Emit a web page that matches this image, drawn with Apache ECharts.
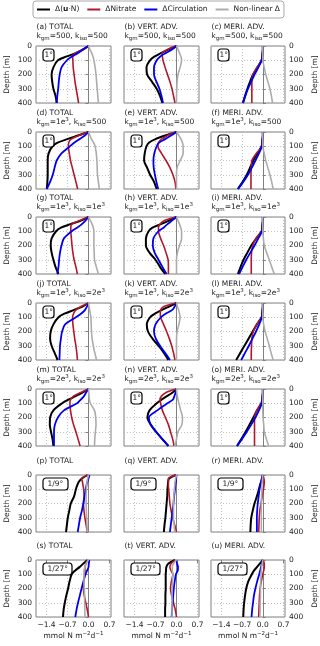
<!DOCTYPE html>
<html>
<head>
<meta charset="utf-8">
<script src="https://cdn.jsdelivr.net/npm/echarts@6/dist/echarts.min.js"></script>
<style>
  html, body { margin: 0; background: #fff; }
  #chart { width: 320px; height: 646px; }
</style>
</head>
<body>
<div id="chart"></div>
<script>
// depth levels (m) at which the profiles were read
const DEPTHS = [0, 25, 50, 75, 100, 150, 200, 250, 300, 350, 400];
const X_TICKS = [-1.4, -0.7, 0, 0.7];
const LETTERS = 'abcdefghijklmnopqrstu';
const COLUMN_NAMES = ['TOTAL', 'VERT. ADV.', 'MERI. ADV.'];
const ROW_PARAMS = [
  'k{s|gm}=500, k{s|iso}=500',
  'k{s|gm}=1e{p|3}, k{s|iso}=500',
  'k{s|gm}=1e{p|3}, k{s|iso}=1e{p|3}',
  'k{s|gm}=1e{p|3}, k{s|iso}=2e{p|3}',
  'k{s|gm}=2e{p|3}, k{s|iso}=2e{p|3}',
  null,
  null,
];
const ROW_RES = ['1°', '1°', '1°', '1°', '1°', '1/9°', '1/27°'];
const SERIES_NAMES = ['Δ(u·N)', 'ΔNitrate', 'ΔCirculation', 'Non-linear Δ'];

// Δ(u·N), one row per panel (a..u)
const BLACK = [
  [0, -0.2, -0.42, -0.75, -1.02, -1.17, -1.23, -1.21, -1.17, -1.1, -1.06],
  [0, -0.28, -0.52, -0.74, -0.88, -1.0, -0.98, -0.82, -0.66, -0.55, -0.47],
  [0, 0, -0.01, -0.02, -0.04, -0.18, -0.33, -0.43, -0.52, -0.6, -0.67],
  [0, -0.35, -0.71, -1.03, -1.2, -1.33, -1.36, -1.36, -1.36, -1.37, -1.39],
  [0, -0.38, -0.7, -0.92, -1.0, -1.06, -1.08, -0.98, -0.88, -0.75, -0.66],
  [0, 0, -0.01, -0.02, -0.04, -0.18, -0.32, -0.43, -0.54, -0.68, -0.84],
  [0, -0.25, -0.6, -0.92, -1.08, -1.23, -1.26, -1.23, -1.17, -1.1, -1.0],
  [0, -0.25, -0.52, -0.8, -0.93, -1.02, -1.02, -0.9, -0.7, -0.55, -0.38],
  [0, 0, -0.01, -0.02, -0.04, -0.22, -0.39, -0.52, -0.65, -0.75, -0.84],
  [0, -0.2, -0.5, -0.8, -1.0, -1.17, -1.26, -1.28, -1.23, -1.13, -1.03],
  [0, -0.25, -0.5, -0.72, -0.88, -0.99, -0.95, -0.8, -0.6, -0.42, -0.27],
  [0, 0, -0.01, -0.02, -0.04, -0.2, -0.34, -0.48, -0.62, -0.76, -0.9],
  [0, -0.2, -0.43, -0.67, -0.88, -1.17, -1.28, -1.29, -1.25, -1.2, -1.17],
  [0, -0.13, -0.32, -0.5, -0.66, -0.9, -0.97, -0.86, -0.68, -0.48, -0.27],
  [0, 0, -0.01, -0.02, -0.05, -0.2, -0.32, -0.45, -0.58, -0.72, -0.87],
  [-0.03, -0.22, -0.33, -0.38, -0.42, -0.48, -0.59, -0.64, -0.69, -0.72, -0.75],
  [-0.02, -0.25, -0.28, -0.29, -0.3, -0.31, -0.33, -0.35, -0.37, -0.4, -0.42],
  [0, -0.03, -0.06, -0.1, -0.13, -0.2, -0.28, -0.34, -0.39, -0.41, -0.42],
  [-0.03, -0.17, -0.3, -0.45, -0.56, -0.63, -0.68, -0.74, -0.79, -0.83, -0.85],
  [-0.05, -0.27, -0.34, -0.35, -0.36, -0.36, -0.36, -0.37, -0.37, -0.38, -0.38],
  [0, -0.1, -0.2, -0.3, -0.37, -0.49, -0.56, -0.6, -0.63, -0.65, -0.66],
];

// ΔNitrate
const RED = [
  [0, -0.17, -0.45, -0.53, -0.52, -0.51, -0.48, -0.45, -0.41, -0.37, -0.33],
  [-0.03, -0.3, -0.48, -0.47, -0.45, -0.38, -0.3, -0.22, -0.15, -0.1, -0.05],
  [0, 0, -0.01, -0.02, -0.03, -0.2, -0.33, -0.37, -0.37, -0.37, -0.37],
  [0, -0.33, -0.58, -0.66, -0.67, -0.64, -0.6, -0.54, -0.48, -0.42, -0.36],
  [-0.05, -0.3, -0.5, -0.6, -0.62, -0.5, -0.35, -0.22, -0.12, -0.05, -0.02],
  [0, 0, -0.01, -0.02, -0.03, -0.22, -0.37, -0.39, -0.4, -0.4, -0.4],
  [0, -0.3, -0.56, -0.59, -0.59, -0.57, -0.55, -0.52, -0.48, -0.42, -0.37],
  [-0.03, -0.4, -0.55, -0.6, -0.6, -0.53, -0.43, -0.35, -0.28, -0.27, -0.27],
  [0, 0, -0.01, -0.02, -0.03, -0.23, -0.34, -0.38, -0.39, -0.39, -0.39],
  [0, -0.25, -0.43, -0.5, -0.53, -0.52, -0.49, -0.46, -0.42, -0.39, -0.37],
  [-0.03, -0.42, -0.53, -0.54, -0.53, -0.43, -0.33, -0.24, -0.16, -0.1, -0.05],
  [0, 0, -0.01, -0.02, -0.03, -0.2, -0.32, -0.37, -0.38, -0.39, -0.39],
  [0, -0.26, -0.5, -0.6, -0.62, -0.6, -0.56, -0.5, -0.42, -0.35, -0.28],
  [-0.03, -0.35, -0.5, -0.55, -0.53, -0.47, -0.37, -0.27, -0.2, -0.13, -0.08],
  [0, 0, -0.01, -0.02, -0.04, -0.2, -0.28, -0.28, -0.28, -0.28, -0.28],
  [0, -0.23, -0.2, -0.18, -0.16, -0.15, -0.17, -0.15, -0.12, -0.08, -0.04],
  [0, -0.27, -0.27, -0.27, -0.26, -0.24, -0.22, -0.18, -0.13, -0.06, 0],
  [0, 0.04, 0.05, 0.04, 0.02, -0.02, -0.06, -0.1, -0.12, -0.13, -0.14],
  [-0.03, -0.08, -0.12, -0.12, -0.13, -0.15, -0.17, -0.14, -0.09, -0.04, 0],
  [-0.03, -0.18, -0.22, -0.18, -0.12, -0.17, -0.2, -0.16, -0.1, -0.04, 0],
  [0, 0.05, 0.05, 0.03, 0, -0.05, -0.09, -0.11, -0.12, -0.13, -0.14],
];

// ΔCirculation
const BLUE = [
  [0, -0.18, -0.36, -0.56, -0.72, -0.9, -0.96, -0.99, -1.01, -1.04, -1.06],
  [0, -0.15, -0.36, -0.55, -0.66, -0.75, -0.75, -0.67, -0.57, -0.5, -0.45],
  [0, 0, -0.01, -0.02, -0.04, -0.15, -0.28, -0.39, -0.5, -0.59, -0.67],
  [0, -0.12, -0.3, -0.48, -0.62, -0.9, -1.06, -1.13, -1.19, -1.28, -1.39],
  [0, -0.18, -0.38, -0.58, -0.66, -0.74, -0.77, -0.76, -0.72, -0.67, -0.61],
  [0, 0, -0.01, -0.02, -0.03, -0.13, -0.25, -0.37, -0.5, -0.66, -0.84],
  [0, -0.1, -0.22, -0.38, -0.56, -0.82, -0.9, -0.95, -0.98, -1.0, -1.04],
  [0, -0.15, -0.3, -0.43, -0.6, -0.77, -0.79, -0.73, -0.6, -0.47, -0.33],
  [0, 0, -0.01, -0.02, -0.03, -0.15, -0.28, -0.42, -0.56, -0.68, -0.8],
  [0, -0.05, -0.12, -0.25, -0.42, -0.78, -0.88, -0.92, -0.95, -0.96, -0.97],
  [0, -0.06, -0.15, -0.36, -0.52, -0.7, -0.75, -0.69, -0.55, -0.38, -0.22],
  [0, 0, -0.01, -0.02, -0.03, -0.12, -0.23, -0.35, -0.47, -0.6, -0.73],
  [0, -0.08, -0.15, -0.26, -0.38, -0.82, -1.02, -1.12, -1.15, -1.15, -1.15],
  [0, -0.03, -0.07, -0.12, -0.3, -0.64, -0.92, -0.86, -0.68, -0.48, -0.27],
  [0, 0, -0.01, -0.02, -0.03, -0.13, -0.25, -0.39, -0.54, -0.7, -0.87],
  [0.03, 0, -0.04, -0.07, -0.09, -0.13, -0.17, -0.22, -0.28, -0.32, -0.36],
  [0, -0.01, -0.02, -0.04, -0.05, -0.08, -0.1, -0.13, -0.16, -0.19, -0.22],
  [0, -0.03, -0.06, -0.09, -0.11, -0.14, -0.17, -0.19, -0.2, -0.2, -0.2],
  [0.03, 0.01, 0, -0.05, -0.1, -0.17, -0.23, -0.29, -0.35, -0.4, -0.44],
  [0, 0.02, 0.05, 0.04, -0.02, -0.06, -0.09, -0.11, -0.13, -0.15, -0.16],
  [0, -0.03, -0.06, -0.09, -0.12, -0.19, -0.25, -0.3, -0.33, -0.36, -0.38],
];

// Non-linear Δ
const GREY = [
  [0, 0.05, 0.11, 0.15, 0.18, 0.22, 0.25, 0.27, 0.29, 0.31, 0.33],
  [0, 0.05, 0.1, 0.15, 0.17, 0.12, 0.05, 0.02, 0.01, 0, 0],
  [0, 0, 0, 0, 0, 0.05, 0.1, 0.17, 0.24, 0.29, 0.33],
  [0, 0.05, 0.1, 0.17, 0.22, 0.26, 0.28, 0.29, 0.3, 0.33, 0.36],
  [0, 0.08, 0.15, 0.2, 0.22, 0.22, 0.12, 0.02, 0, 0, 0],
  [0, 0, 0, 0, 0, 0.05, 0.1, 0.17, 0.24, 0.3, 0.35],
  [0, 0.06, 0.12, 0.16, 0.18, 0.18, 0.18, 0.19, 0.2, 0.26, 0.33],
  [0, 0.05, 0.1, 0.14, 0.17, 0.17, 0.1, 0.03, 0, 0, 0],
  [0, 0, 0, 0, 0, 0.02, 0.05, 0.13, 0.22, 0.3, 0.39],
  [0, 0.02, 0.04, 0.06, 0.08, 0.09, 0.1, 0.12, 0.16, 0.21, 0.27],
  [0, 0.03, 0.07, 0.1, 0.12, 0.08, 0.02, 0, 0, 0, 0],
  [0, 0, 0, 0, 0, 0.03, 0.08, 0.15, 0.22, 0.28, 0.35],
  [0, 0.01, 0.02, 0.03, 0.06, 0.2, 0.24, 0.25, 0.23, 0.21, 0.2],
  [0, 0.01, 0.03, 0.05, 0.08, 0.14, 0.2, 0.18, 0.05, 0, -0.05],
  [0, 0, 0, 0, 0, 0, 0.01, 0.03, 0.05, 0.12, 0.2],
  [0, -0.03, -0.05, -0.06, -0.07, -0.08, -0.08, -0.07, -0.06, -0.05, -0.04],
  [0, -0.03, -0.05, -0.06, -0.07, -0.09, -0.1, -0.1, -0.1, -0.08, -0.06],
  [0, -0.01, -0.02, -0.03, -0.03, -0.04, -0.05, -0.05, -0.05, -0.05, -0.05],
  [0, -0.08, -0.12, -0.15, -0.15, -0.15, -0.14, -0.13, -0.13, -0.12, -0.12],
  [0, -0.1, -0.14, -0.14, -0.12, -0.13, -0.14, -0.15, -0.15, -0.15, -0.15],
  [0, -0.02, -0.04, -0.05, -0.06, -0.07, -0.08, -0.08, -0.09, -0.09, -0.1],
];

const FONT = 'DejaVu Sans';
const TEXT = '#222';
const SPINE = '#808080';
const COL_LEFT = [36, 124, 211];
const ROW_TOP = [46, 132, 217, 303, 389, 475, 560];
const PW = 75, PH = 57;
const LINES = [
  { data: BLACK, color: '#000000', width: 2 },
  { data: RED, color: '#b2182b', width: 1.6 },
  { data: BLUE, color: '#0000f0', width: 1.8 },
  { data: GREY, color: '#acacac', width: 1.6 },
];

const subRich = {
  s: { fontSize: 5.5, lineHeight: 6, verticalAlign: 'bottom', fontFamily: FONT, color: TEXT },
  p: { fontSize: 5.5, lineHeight: 6, verticalAlign: 'top', fontFamily: FONT, color: TEXT },
  b: { fontSize: 7.5, fontWeight: 'bold', fontFamily: FONT, color: TEXT },
};

const grids = [], xAxes = [], yAxes = [], series = [], titles = [];
const dotted = { show: true, lineStyle: { color: '#b4b4b4', type: [1, 2], width: 0.8 } };

for (let r = 0; r < 7; r++) {
  for (let c = 0; c < 3; c++) {
    const p = r * 3 + c;
    const last = r === 6;
    grids.push({ left: COL_LEFT[c], top: ROW_TOP[r], width: PW, height: PH,
      show: true, borderColor: SPINE, borderWidth: 1, backgroundColor: 'transparent' });
    xAxes.push({
      gridIndex: p, type: 'value', min: -1.75, max: 0.75,
      axisLine: { show: false },
      axisTick: { show: last, customValues: X_TICKS, length: 3, lineStyle: { color: SPINE } },
      axisLabel: { show: last, customValues: X_TICKS, fontSize: 7.5, fontFamily: FONT, color: TEXT, margin: 4,
        formatter: v => v.toFixed(1).replace('-', '−') },
      splitLine: dotted,
      name: last ? 'mmol N m{p|−2}d{p|−1}' : '',
      nameLocation: 'middle', nameGap: 14,
      nameTextStyle: { fontSize: 7.5, fontFamily: FONT, color: TEXT, lineHeight: 10, rich: subRich },
    });
    yAxes.push({
      gridIndex: p, type: 'value', inverse: true, min: 0, max: 400, interval: 100,
      position: c === 2 ? 'right' : 'left',
      axisLine: { show: false },
      axisTick: { show: c !== 1, length: 3, lineStyle: { color: SPINE } },
      axisLabel: { show: c !== 1, fontSize: 7.5, fontFamily: FONT, color: TEXT, margin: 4 },
      splitLine: dotted,
      name: c !== 1 ? 'Depth [m]' : '',
      nameLocation: 'middle', nameRotate: 90, nameGap: c === 2 ? 26 : 24.5,
      nameTextStyle: { fontSize: 7.5, fontFamily: FONT, color: TEXT },
    });

    // panel titles
    const hasParams = ROW_PARAMS[r] !== null;
    titles.push({
      text: `(${LETTERS[p]}) ${COLUMN_NAMES[c]}`,
      left: COL_LEFT[c] + 0.5, top: ROW_TOP[r] + (hasParams ? -23 : -18.5), padding: 0,
      textStyle: { fontSize: 7.5, fontWeight: 'normal', fontFamily: FONT, color: TEXT, lineHeight: 9 },
    });
    if (hasParams) {
      titles.push({
        text: ROW_PARAMS[r],
        left: COL_LEFT[c] + 0.5, top: ROW_TOP[r] - 15, padding: 0,
        textStyle: { fontSize: 7.5, fontWeight: 'normal', fontFamily: FONT, color: TEXT, lineHeight: 11, rich: subRich },
      });
    }
    const res = ROW_RES[r];
    titles.push({
      text: res, left: COL_LEFT[c] + 7, top: ROW_TOP[r] + 3,
      padding: res === '1°' ? [1.5, 1.5] : [1.5, 4.5],
      borderColor: '#000', borderWidth: 1.2, borderRadius: 3, backgroundColor: '#fff',
      textStyle: { fontSize: 7.5, fontWeight: 'normal', fontFamily: FONT, color: TEXT, lineHeight: 9 },
    });

    LINES.forEach((ln, k) => {
      const s = {
        type: 'line', name: SERIES_NAMES[k], xAxisIndex: p, yAxisIndex: p,
        data: DEPTHS.map((d, i) => [ln.data[p][i], d]),
        symbol: 'none', showSymbol: false, smooth: 0.3, silent: true,
        lineStyle: { color: ln.color, width: ln.width },
        itemStyle: { color: ln.color },
        z: 3 + k,
      };
      if (k === 0) {
        s.markLine = {
          silent: true, symbol: 'none', label: { show: false }, z: 2,
          lineStyle: { color: SPINE, type: 'solid', width: 1 },
          data: [{ xAxis: 0 }],
        };
      }
      series.push(s);
    });
  }
}

const chart = echarts.init(document.getElementById('chart'), null, { renderer: 'canvas' });
chart.setOption({
  animation: false,
  backgroundColor: '#fff',
  title: titles,
  legend: {
    data: SERIES_NAMES.map((n, k) => ({ name: n, icon: 'rect', itemStyle: { color: LINES[k].color } })),
    left: 33, top: 1,
    padding: [4, 4], itemGap: 8, itemWidth: 13, itemHeight: 2,
    borderColor: '#aaa', borderWidth: 1, borderRadius: 3,
    textStyle: { fontSize: 7.5, fontFamily: FONT, color: TEXT, rich: subRich, lineHeight: 9 },
    formatter: name => name === 'Δ(u·N)' ? 'Δ({b|u}·N)' : name,
  },
  grid: grids,
  xAxis: xAxes,
  yAxis: yAxes,
  series: series,
});
</script>
</body>
</html>
